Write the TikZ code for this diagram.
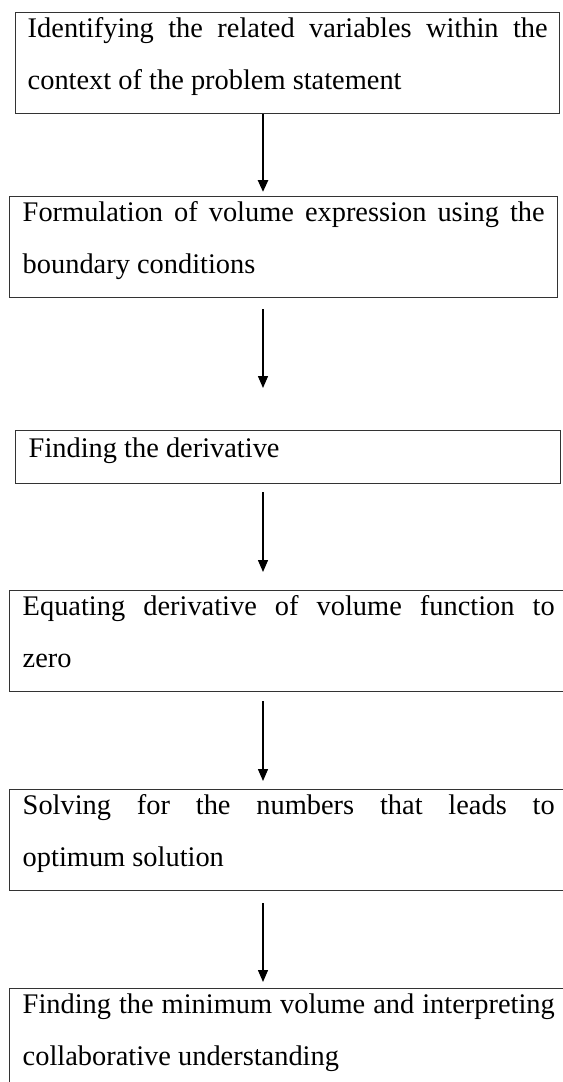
\documentclass[tikz,border=0pt]{standalone}
\usepackage{fontspec}
\setmainfont{Liberation Serif}
\usetikzlibrary{arrows.meta}
\definecolor{boxgray}{HTML}{333333}
\newcommand{\stepfont}{\fontsize{21.3pt}{39pt}\selectfont}
\tikzset{
  stepbox/.style={draw=boxgray, line width=1.1pt, anchor=north west,
    inner xsep=9.75pt, inner ysep=0pt, align=justify, font=\stepfont,
    text height=18.75pt, text depth=57pt},
  flow/.style={-{Triangle[length=9pt,width=7.5pt]}, line width=1pt}
}
\begin{document}
\begin{tikzpicture}[x=0.75pt,y=-0.75pt]
      \useasboundingbox (0,0) rectangle (562,1082);
      \coordinate (spine) at (263,0);
      \node[stepbox, inner xsep=9pt, text width=390pt] (ident) at (15,12)
        {Identifying the related variables within the\linebreak context of the problem statement};
      \node[stepbox, text width=391.5pt] (formul) at (9,196)
        {Formulation of volume expression using the\linebreak boundary conditions};
      \node[stepbox, text width=389.25pt, text height=20.25pt, text depth=19.5pt] (deriv) at (15,430)
        {Finding the derivative};
      \node[stepbox, text width=399pt] (equat) at (9,590)
        {Equating derivative of volume function to\linebreak zero};
      \node[stepbox, text width=399pt] (solve) at (9,789)
        {Solving for the numbers that leads to\linebreak optimum solution};
      \node[stepbox, text width=399pt] (minvol) at (9,988)
        {Finding the minimum volume and interpreting\linebreak collaborative understanding};
      \begin{scope}[flow]
        \draw[line width=1.9pt, shorten >=3pt] (ident.south -| spine) to (formul.north -| spine);
        \draw[shorten <=8.25pt, shorten >=31.5pt] (formul.south -| spine) to (deriv.north -| spine);
        \draw[shorten <=6pt, shorten >=13.5pt] (deriv.south -| spine) to (equat.north -| spine);
        \draw[shorten <=6.75pt, shorten >=6pt] (equat.south -| spine) to (solve.north -| spine);
        \draw[shorten <=9pt, shorten >=4.5pt] (solve.south -| spine) to (minvol.north -| spine);
      \end{scope}
    \end{tikzpicture}
\end{document}
